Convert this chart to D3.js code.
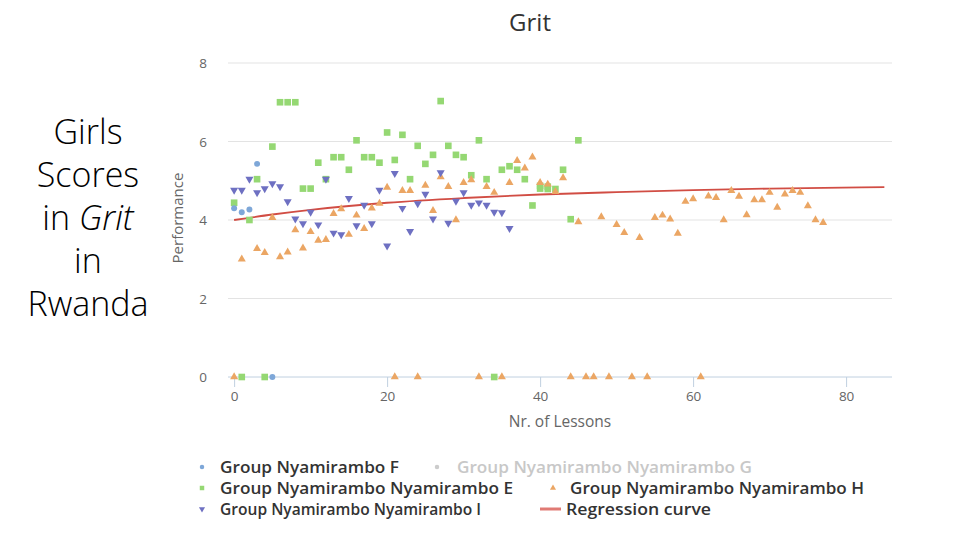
<!DOCTYPE html>
<html><head><meta charset="utf-8">
<script src="https://cdn.jsdelivr.net/npm/d3@7"></script>
<style>html,body{margin:0;padding:0;background:#fff;}svg{display:block;}</style>
</head><body>
<svg id="c" width="960" height="540"></svg>
<script>
// ---- data ----
const xTicks = [0, 20, 40, 60, 80];
const yTicks = [0, 2, 4, 6, 8];

const fX = [0, 1, 2, 3, 5];
const fY = [4.3, 4.2, 4.27, 5.43, 0];

const gX = [];
const gY = [];

const eX = [0,1,2,3,4,5,6,7,8,9,10,11,12,13,14,15,16,17,18,19,20,21,22,23,24,25,26,27,28,29,30,31,32,33,34,35,36,37,38,39,40,40,41,41,42,43,44,45];
const eY = [4.44,0,4.0,5.04,0,5.87,7,7,7,4.8,4.8,5.46,5.04,5.6,5.6,5.28,6.03,5.6,5.6,5.46,6.23,5.53,6.17,5.04,5.89,5.43,5.66,7.03,5.89,5.66,5.6,5.14,6.03,5.04,0,5.28,5.37,5.28,5.04,4.37,4.87,4.8,4.85,4.79,4.79,5.28,4.02,6.03];

const hX = [0,1,3,4,5,6,7,8,9,10,11,12,13,14,15,16,17,18,19,20,21,22,23,24,25,26,27,28,29,30,31,32,33,34,35,36,37,38,39,40,41,42,43,44,45,46,47,48,49,50,51,52,53,54,55,56,57,58,59,60,61,62,63,64,65,66,67,68,69,70,71,72,73,74,75,76,77];
const hY = [0,3.0,3.27,3.17,4.06,3.06,3.18,3.75,3.28,3.7,3.48,3.5,4.16,4.28,3.63,4.12,3.78,4.3,4.42,4.83,0,4.75,4.75,0,4.88,4.24,5.1,4.85,4.0,4.95,5.02,0,4.85,4.7,0,4.95,5.51,5.32,5.6,4.95,4.91,4.72,5.07,0,3.95,0,0,4.08,0,3.88,3.68,0,3.55,0,4.06,4.12,4.02,3.66,4.47,4.54,0,4.61,4.57,4.0,4.75,4.6,4.13,4.51,4.51,4.7,4.32,4.66,4.75,4.7,4.36,4.0,3.93];

const iX = [0,1,2,3,4,5,6,7,8,9,10,11,12,13,14,15,16,17,18,19,20,21,22,23,24,25,26,27,28,29,30,31,32,33,34,35,36];
const iY = [4.76,4.76,5.04,4.7,4.8,4.93,4.85,4.47,4.03,3.91,4.2,3.88,5.04,3.67,3.63,4.55,3.86,4.38,3.91,4.76,3.34,5.19,4.3,3.71,4.42,4.66,4.03,5.21,3.92,4.48,4.7,4.38,4.44,4.38,4.2,4.19,3.79];

const regX = [0, 5, 10, 20, 30, 40, 50, 60, 70, 85];
const regY = [4.0, 4.14, 4.26, 4.44, 4.56, 4.65, 4.71, 4.76, 4.8, 4.84];

const seriesNames = ["Group Nyamirambo F", "Group Nyamirambo Nyamirambo G", "Group Nyamirambo Nyamirambo E",
  "Group Nyamirambo Nyamirambo H", "Group Nyamirambo Nyamirambo I", "Regression curve"];

// ---- chart ----
const svg = d3.select("#c");
const x = d3.scaleLinear().domain([-0.8, 86]).range([228, 892]);
const y = d3.scaleLinear().domain([0, 8]).range([377, 63]);

const colF = "#7ea7d8", colG = "#cccccc", colE = "#95d873", colH = "#eba664", colI = "#6e70c2", colR = "#cc3a30";

// gridlines
svg.append("g").selectAll("line").data(yTicks.filter(d => d > 0)).join("line")
  .attr("x1", 228).attr("x2", 892).attr("y1", d => y(d)).attr("y2", d => y(d))
  .attr("stroke", "#e3e3e3").attr("stroke-width", 1.2);

// y tick labels
svg.append("g").selectAll("text").data(yTicks).join("text")
  .attr("x", 207).attr("y", d => y(d) + 5).attr("text-anchor", "end")
  .attr("font-family", "Open Sans, sans-serif").attr("font-size", 13.5).attr("fill", "#666")
  .text(d => d);

// x axis
const xAxis = d3.axisBottom(x).tickValues(xTicks).tickSize(10).tickPadding(4);
const gx = svg.append("g").attr("transform", "translate(0,377)").call(xAxis);
gx.select(".domain").attr("stroke", "#c0d0e0").attr("d", "M228,0H892");
gx.selectAll(".tick line").attr("stroke", "#c0d0e0");
gx.selectAll(".tick text").attr("font-family", "Open Sans, sans-serif").attr("font-size", 13.5).attr("fill", "#666");

// titles
svg.append("text").attr("x", 530).attr("y", 31).attr("text-anchor", "middle")
  .attr("font-family", "Open Sans, sans-serif").attr("font-size", 24).attr("fill", "#333").text("Grit");
svg.append("text").attr("transform", "translate(183,218) rotate(-90)").attr("text-anchor", "middle")
  .attr("font-family", "Open Sans, sans-serif").attr("font-size", 15).attr("fill", "#666").text("Performance");
svg.append("text").attr("x", 560).attr("y", 427).attr("text-anchor", "middle")
  .attr("font-family", "Open Sans, sans-serif").attr("font-size", 15.5).attr("fill", "#666").text("Nr. of Lessons");

// symbols
const symCircle = d3.symbol().type(d3.symbolCircle).size(28)();
const symSquare = d3.symbol().type(d3.symbolSquare).size(44)();
const symTri = d3.symbol().type(d3.symbolTriangle).size(28)();

function pts(xs, ys) { return xs.map((v, i) => ({x: v, y: ys[i]})); }

const plot = svg.append("g");
// regression curve
const line = d3.line().x(d => x(d.x)).y(d => y(d.y)).curve(d3.curveMonotoneX);
plot.append("path").datum(pts(regX, regY)).attr("d", line)
  .attr("fill", "none").attr("stroke", colR).attr("stroke-width", 1.8).attr("opacity", 0.9);

plot.append("g").selectAll("path").data(pts(eX, eY)).join("path")
  .attr("d", symSquare).attr("transform", d => `translate(${x(d.x)},${y(d.y)})`).attr("fill", colE);
plot.append("g").selectAll("path").data(pts(hX, hY)).join("path")
  .attr("d", symTri).attr("transform", d => `translate(${x(d.x)},${y(d.y)})`).attr("fill", colH);
plot.append("g").selectAll("path").data(pts(iX, iY)).join("path")
  .attr("d", symTri).attr("transform", d => `translate(${x(d.x)},${y(d.y)}) rotate(180)`).attr("fill", colI);
plot.append("g").selectAll("path").data(pts(fX, fY)).join("path")
  .attr("d", symCircle).attr("transform", d => `translate(${x(d.x)},${y(d.y)})`).attr("fill", colF);
plot.append("g").selectAll("path").data(pts(gX, gY)).join("path")
  .attr("d", symCircle).attr("transform", d => `translate(${x(d.x)},${y(d.y)})`).attr("fill", colG);

// legend
const leg = [
  {sx: 202, tx: 220, cy: 467, name: seriesNames[0], w: 179, col: colF, sym: "c", tc: "#333"},
  {sx: 437, tx: 457, cy: 467, name: seriesNames[1], w: 295, col: colG, sym: "c", tc: "#c8c8c8"},
  {sx: 202, tx: 220, cy: 488, name: seriesNames[2], w: 293, col: colE, sym: "s", tc: "#333"},
  {sx: 553, tx: 570, cy: 488, name: seriesNames[3], w: 294, col: colH, sym: "t", tc: "#333"},
  {sx: 202, tx: 220, cy: 509, name: seriesNames[4], w: 261, col: colI, sym: "i", tc: "#333"},
  {sx: 550, tx: 566, cy: 509, name: seriesNames[5], w: 145, col: "#e07a74", sym: "l", tc: "#333"}
];
const lg = svg.append("g");
leg.forEach(d => {
  if (d.sym === "l") {
    lg.append("line").attr("x1", d.sx - 10).attr("x2", d.sx + 11).attr("y1", d.cy).attr("y2", d.cy)
      .attr("stroke", d.col).attr("stroke-width", 3);
  } else {
    const s = d3.symbol().type(d.sym === "c" ? d3.symbolCircle : d.sym === "s" ? d3.symbolSquare : d3.symbolTriangle)
      .size(d.sym === "s" ? 20 : 16)();
    lg.append("path").attr("d", s)
      .attr("transform", `translate(${d.sx},${d.cy})${d.sym === "i" ? " rotate(180)" : ""}`).attr("fill", d.col);
  }
  lg.append("text").attr("x", d.tx).attr("y", d.cy + 5.5)
    .attr("font-family", "Open Sans, sans-serif").attr("font-weight", 600).attr("font-size", 15.5)
    .attr("fill", d.tc).attr("textLength", d.w).attr("lengthAdjust", "spacingAndGlyphs").text(d.name);
});

// left side text
const lines = [["Girls"], ["Scores"], ["in ", "Grit"], ["in"], ["Rwanda"]];
lines.forEach((ln, i) => {
  const t = svg.append("text").attr("x", 88).attr("y", 144 + i * 43).attr("text-anchor", "middle")
    .attr("font-family", "Open Sans, sans-serif").attr("font-size", 34).attr("font-weight", 300).attr("fill", "#000");
  ln.forEach((part, j) => {
    t.append("tspan").attr("font-style", j === 1 ? "italic" : "normal").text(part);
  });
});
</script>
</body></html>
